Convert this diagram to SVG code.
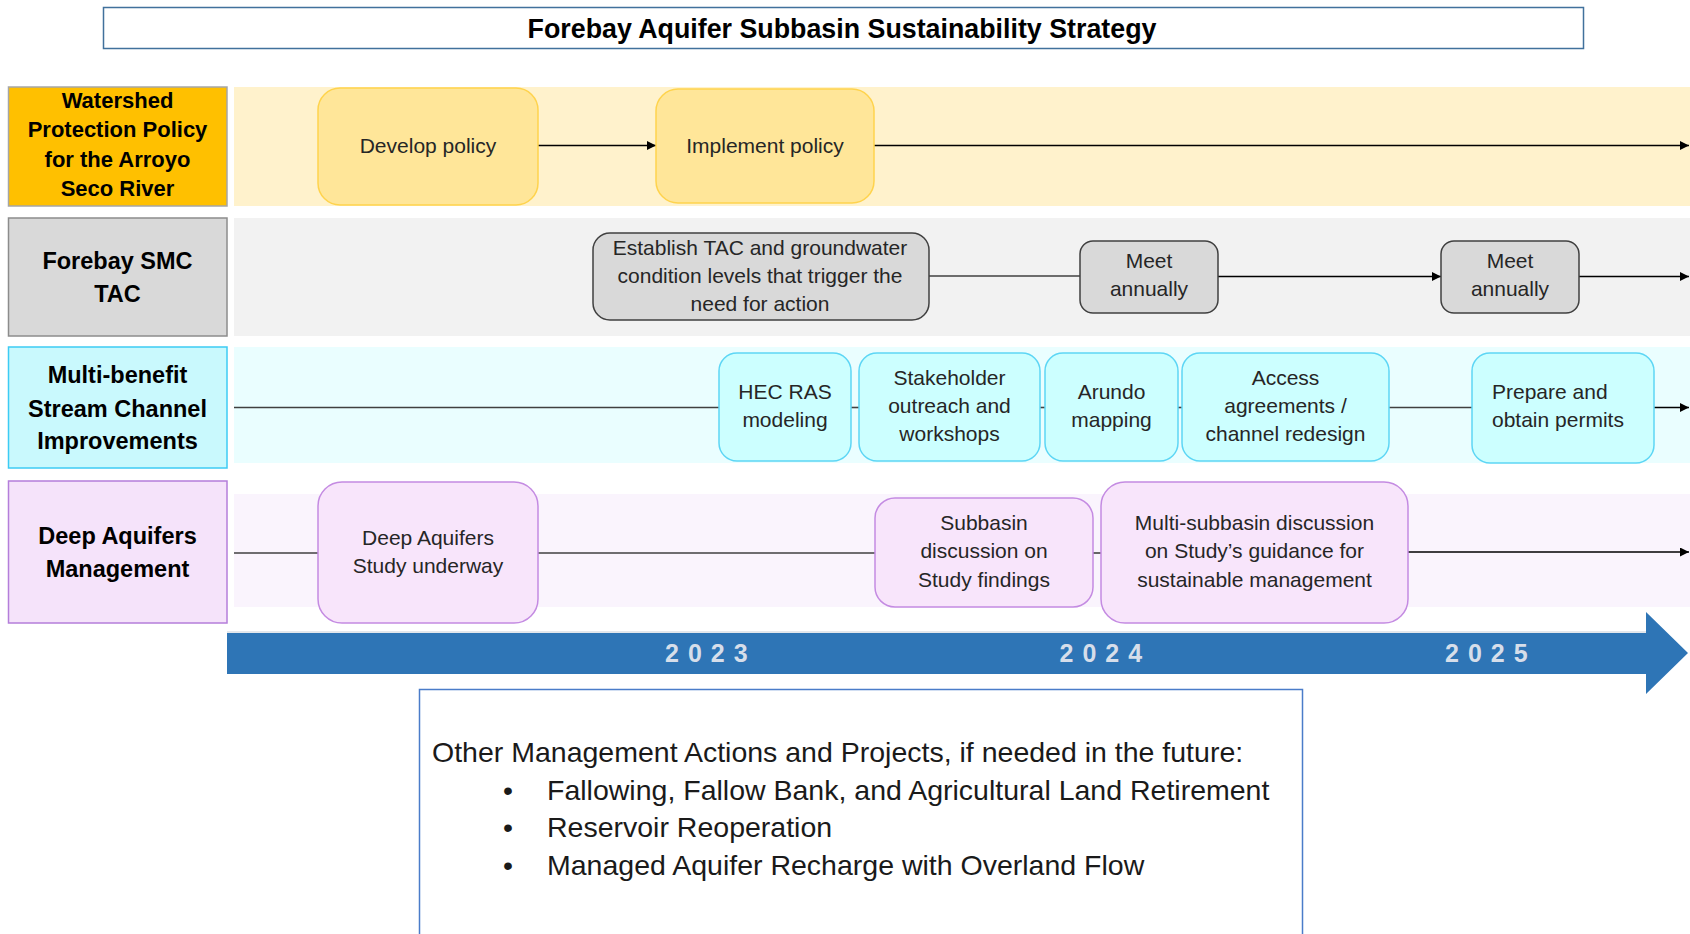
<svg xmlns="http://www.w3.org/2000/svg" width="1690" height="934" viewBox="0 0 1690 934">
<defs>
<marker id="arr" viewBox="0 0 10 10" refX="10" refY="5" markerWidth="9" markerHeight="9" markerUnits="userSpaceOnUse" orient="auto"><path d="M0,0 L10,5 L0,10 z" fill="#000"/></marker>
<style>
.lab{font-family:"Liberation Sans",Arial,sans-serif;font-weight:bold;fill:#000;text-anchor:middle}
.bx{font-family:"Liberation Sans",Arial,sans-serif;font-size:21px;fill:#262626;text-anchor:middle}
.ln{stroke:#404040;stroke-width:1.6;fill:none}
.ar{stroke:#000;stroke-width:1.6;fill:none;marker-end:url(#arr)}
.y{font-family:"Liberation Sans",Arial,sans-serif;font-weight:bold;font-size:25px;fill:#D6DEEA;letter-spacing:9px}
.ot{font-family:"Liberation Sans",Arial,sans-serif;font-size:28.5px;fill:#1a1a1a}
</style>
</defs>
<rect width="1690" height="934" fill="#fff"/>

<g id="title">
<rect x="103.5" y="7.5" width="1480" height="41" fill="#fff" stroke="#41719C" stroke-width="1.5"/>
<text x="842" y="37.5" class="lab" font-size="26.8">Forebay Aquifer Subbasin Sustainability Strategy</text>
</g>

<g id="bands">
<rect x="234" y="87" width="1456" height="119" fill="#FFF2CC"/>
<rect x="234" y="218" width="1456" height="118" fill="#F2F2F2"/>
<rect x="234" y="347" width="1456" height="116" fill="#EAFEFF"/>
<rect x="234" y="494" width="1456" height="113" fill="#FAF4FD"/>
</g>

<g id="connectors">
<line class="ar" x1="538" y1="145.5" x2="656" y2="145.5"/>
<line class="ar" x1="874" y1="145.5" x2="1689" y2="145.5"/>
<line class="ln" x1="929" y1="276" x2="1080" y2="276"/>
<line class="ar" x1="1218" y1="276.5" x2="1441" y2="276.5"/>
<line class="ar" x1="1579" y1="276.5" x2="1689" y2="276.5"/>
<line class="ln" x1="234" y1="407.5" x2="719" y2="407.5"/>
<line class="ln" x1="851" y1="407.5" x2="859" y2="407.5"/>
<line class="ln" x1="1040" y1="407.5" x2="1045" y2="407.5"/>
<line class="ln" x1="1178" y1="407.5" x2="1182" y2="407.5"/>
<line class="ln" x1="1389" y1="407.5" x2="1472" y2="407.5"/>
<line class="ar" x1="1654" y1="407.5" x2="1689" y2="407.5"/>
<line class="ln" x1="234" y1="553" x2="318" y2="553"/>
<line class="ln" x1="538" y1="553" x2="875" y2="553"/>
<line class="ln" x1="1093" y1="553" x2="1101" y2="553"/>
<line class="ar" x1="1408" y1="552" x2="1689" y2="552"/>
</g>

<g id="label-watershed">
<rect x="8.5" y="87" width="218.5" height="119" fill="#FFC000" stroke="#A6A6A6" stroke-width="1.5"/>
<text class="lab" font-size="22" x="117.5" y="107.5">Watershed</text>
<text class="lab" font-size="22" x="117.5" y="137">Protection Policy</text>
<text class="lab" font-size="22" x="117.5" y="166.5">for the Arroyo</text>
<text class="lab" font-size="22" x="117.5" y="196">Seco River</text>
</g>
<g id="label-tac">
<rect x="8.5" y="218" width="218.5" height="118" fill="#D9D9D9" stroke="#8C8C8C" stroke-width="1.5"/>
<text class="lab" font-size="23.5" x="117.5" y="269">Forebay SMC</text>
<text class="lab" font-size="23.5" x="117.5" y="302">TAC</text>
</g>
<g id="label-stream">
<rect x="8.5" y="347" width="218.5" height="121" fill="#C9F9FD" stroke="#3CCBF4" stroke-width="1.5"/>
<text class="lab" font-size="23.5" x="117.5" y="383">Multi-benefit</text>
<text class="lab" font-size="23.5" x="117.5" y="416.5">Stream Channel</text>
<text class="lab" font-size="23.5" x="117.5" y="449">Improvements</text>
</g>
<g id="label-deep">
<rect x="8.5" y="481" width="218.5" height="142" fill="#F5E3FA" stroke="#B47EDA" stroke-width="1.5"/>
<text class="lab" font-size="23.5" x="117.5" y="544">Deep Aquifers</text>
<text class="lab" font-size="23.5" x="117.5" y="577">Management</text>
</g>

<g id="develop-policy">
<rect x="318" y="88" width="220" height="117" rx="22" fill="#FFE699" stroke="#FFD34D" stroke-width="1.5"/>
<text class="bx" x="428" y="152.5">Develop policy</text>
</g>
<g id="implement-policy">
<rect x="656" y="89" width="218" height="114" rx="22" fill="#FFE699" stroke="#FFD34D" stroke-width="1.5"/>
<text class="bx" x="765" y="152.5">Implement policy</text>
</g>

<g id="establish-tac">
<rect x="593" y="233" width="336" height="87" rx="17" fill="#D9D9D9" stroke="#404040" stroke-width="1.5"/>
<text class="bx" x="760" y="255">Establish TAC and groundwater</text>
<text class="bx" x="760" y="283">condition levels that trigger the</text>
<text class="bx" x="760" y="311">need for action</text>
</g>
<g id="meet-1">
<rect x="1080" y="241" width="138" height="72" rx="13" fill="#D9D9D9" stroke="#404040" stroke-width="1.5"/>
<text class="bx" x="1149" y="268">Meet</text>
<text class="bx" x="1149" y="296">annually</text>
</g>
<g id="meet-2">
<rect x="1441" y="241" width="138" height="72" rx="13" fill="#D9D9D9" stroke="#404040" stroke-width="1.5"/>
<text class="bx" x="1510" y="268">Meet</text>
<text class="bx" x="1510" y="296">annually</text>
</g>

<g id="hec-ras">
<rect x="719" y="353" width="132" height="108" rx="18" fill="#CCFFFF" stroke="#5DD6F5" stroke-width="1.5"/>
<text class="bx" x="785" y="399">HEC RAS</text>
<text class="bx" x="785" y="427">modeling</text>
</g>
<g id="stakeholder">
<rect x="859" y="353" width="181" height="108" rx="18" fill="#CCFFFF" stroke="#5DD6F5" stroke-width="1.5"/>
<text class="bx" x="949.5" y="385">Stakeholder</text>
<text class="bx" x="949.5" y="413">outreach and</text>
<text class="bx" x="949.5" y="441">workshops</text>
</g>
<g id="arundo">
<rect x="1045" y="353" width="133" height="108" rx="18" fill="#CCFFFF" stroke="#5DD6F5" stroke-width="1.5"/>
<text class="bx" x="1111.5" y="399">Arundo</text>
<text class="bx" x="1111.5" y="427">mapping</text>
</g>
<g id="access">
<rect x="1182" y="353" width="207" height="108" rx="18" fill="#CCFFFF" stroke="#5DD6F5" stroke-width="1.5"/>
<text class="bx" x="1285.5" y="385">Access</text>
<text class="bx" x="1285.5" y="413">agreements /</text>
<text class="bx" x="1285.5" y="441">channel redesign</text>
</g>
<g id="permits">
<rect x="1472" y="353" width="182" height="110" rx="18" fill="#CCFFFF" stroke="#5DD6F5" stroke-width="1.5"/>
<text class="bx" x="1492" y="399" style="text-anchor:start">Prepare and</text>
<text class="bx" x="1492" y="427" style="text-anchor:start">obtain permits</text>
</g>

<g id="deep-study">
<rect x="318" y="482" width="220" height="141" rx="24" fill="#F8E5FB" stroke="#C48BE2" stroke-width="1.5"/>
<text class="bx" x="428" y="545">Deep Aquifers</text>
<text class="bx" x="428" y="573">Study underway</text>
</g>
<g id="subbasin-discussion">
<rect x="875" y="498" width="218" height="109" rx="20" fill="#F8E5FB" stroke="#C48BE2" stroke-width="1.5"/>
<text class="bx" x="984" y="530">Subbasin</text>
<text class="bx" x="984" y="558">discussion on</text>
<text class="bx" x="984" y="587">Study findings</text>
</g>
<g id="multi-subbasin">
<rect x="1101" y="482" width="307" height="141" rx="24" fill="#F8E5FB" stroke="#C48BE2" stroke-width="1.5"/>
<text class="bx" x="1254.5" y="530">Multi-subbasin discussion</text>
<text class="bx" x="1254.5" y="558">on Study’s guidance for</text>
<text class="bx" x="1254.5" y="587">sustainable management</text>
</g>

<g id="timeline">
<polygon points="227,633 1646,633 1646,612 1688,653 1646,694 1646,674 227,674" fill="#2E75B6"/>
<line x1="227" y1="632" x2="1646" y2="632" stroke="#C8D0DA" stroke-width="1.2"/>
<text class="y" x="665" y="662">2023</text>
<text class="y" x="1059.5" y="662">2024</text>
<text class="y" x="1445" y="662">2025</text>
</g>

<g id="other-actions">
<rect x="419.5" y="689.5" width="883" height="260" fill="#fff" stroke="#4A7CC9" stroke-width="1.5"/>
<text class="ot" x="432" y="762">Other Management Actions and Projects, if needed in the future:</text>
<text class="ot" x="503" y="800">•</text>
<text class="ot" x="547" y="800">Fallowing, Fallow Bank, and Agricultural Land Retirement</text>
<text class="ot" x="503" y="837">•</text>
<text class="ot" x="547" y="837">Reservoir Reoperation</text>
<text class="ot" x="503" y="875">•</text>
<text class="ot" x="547" y="875">Managed Aquifer Recharge with Overland Flow</text>
</g>
</svg>
